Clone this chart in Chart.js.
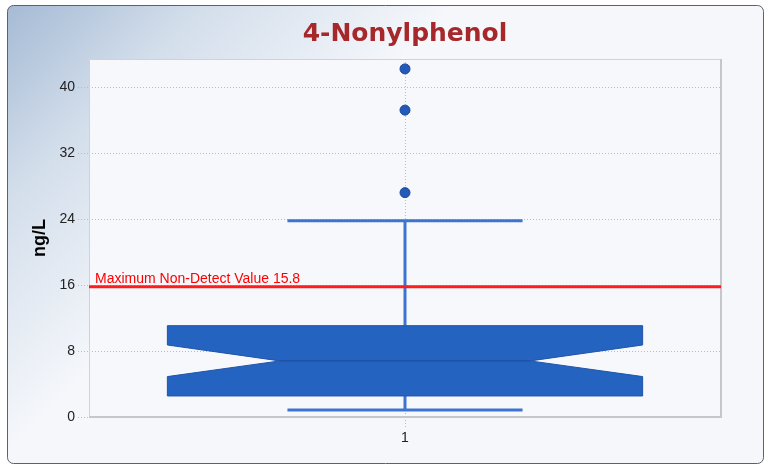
<!DOCTYPE html>
<html>
<head>
<meta charset="utf-8">
<title>4-Nonylphenol</title>
<script src="https://cdn.jsdelivr.net/npm/chart.js@4.4.0/dist/chart.umd.min.js"></script>
<style>
  html, body { margin: 0; padding: 0; background: #ffffff; }
  #wrap { width: 764px; height: 465px; }
</style>
</head>
<body>
<div id="wrap"><canvas id="chart" width="764" height="465"></canvas></div>
<script>
// Sample group and axis ticks
const categories = [1];
const yTickValues = [0, 8, 16, 24, 32, 40];

// Box-plot statistics per group (ng/L)
const whiskerLow  = [0.85];
const q1          = [2.55];
const notchLow    = [4.9];
const median      = [6.8];
const notchHigh   = [8.73];
const q3          = [11.07];
const whiskerHigh = [23.8];
const outliers    = [[27.2, 37.2, 42.2]];

// Reference line
const maxNonDetect = 15.8;

const chartTitle = '4-Nonylphenol';

// Shape of the box glyph, in x-axis units
const BOX_HALF = 0.376;
const NOTCH_HALF = 0.198;
const CAP_HALF = 0.186;

const FONT = "'Liberation Sans', Arial, sans-serif";

const outlierPoints = [];
categories.forEach((c, i) => outliers[i].forEach(v => outlierPoints.push({ x: c, y: v })));

// Panel background: framed card with a bluish corner wash, plus plot area fill
const panelPlugin = {
  id: 'panel',
  beforeDraw(chart) {
    const { ctx, chartArea: a, width, height } = chart;
    ctx.save();
    ctx.fillStyle = '#ffffff';
    ctx.fillRect(0, 0, width, height);
    const g = ctx.createLinearGradient(0, 0, 230, 230);
    g.addColorStop(0, '#a2b8d3');
    g.addColorStop(0.45, '#d3deeb');
    g.addColorStop(1, '#f5f7fb');
    ctx.beginPath();
    ctx.roundRect(7.5, 5.5, 756, 458, 6);
    ctx.fillStyle = g;
    ctx.fill();
    ctx.lineWidth = 1;
    ctx.strokeStyle = '#5d6269';
    ctx.stroke();
    ctx.fillStyle = '#f7f8fc';
    ctx.fillRect(a.left, a.top, a.right - a.left, a.bottom - a.top);

    // title, centred over the plot area
    ctx.fillStyle = '#a6282b';
    ctx.font = "bold 25px 'DejaVu Sans', sans-serif";
    ctx.textAlign = 'center';
    ctx.textBaseline = 'middle';
    ctx.fillText(chartTitle, (a.left + a.right) / 2, 34);
    ctx.restore();
  },
  beforeDatasetsDraw(chart) {
    const { ctx, chartArea: a } = chart;
    ctx.save();
    ctx.strokeStyle = '#cfd2d6';
    ctx.lineWidth = 1;
    ctx.beginPath();
    ctx.moveTo(a.left + 0.5, a.bottom);
    ctx.lineTo(a.left + 0.5, a.top + 0.5);
    ctx.lineTo(a.right, a.top + 0.5);
    ctx.stroke();
    ctx.strokeStyle = '#c4c8cc';
    ctx.lineWidth = 2;
    ctx.beginPath();
    ctx.moveTo(a.right, a.top);
    ctx.lineTo(a.right, a.bottom);
    ctx.lineTo(a.left, a.bottom);
    ctx.stroke();
    ctx.restore();
  }
};

// Notched box, whiskers and caps drawn through the chart scales
const boxPlugin = {
  id: 'notchedBox',
  beforeDatasetsDraw(chart) {
    const { ctx, scales: { x, y } } = chart;
    ctx.save();
    categories.forEach((c, i) => {
      const xl = x.getPixelForValue(c - BOX_HALF);
      const xr = x.getPixelForValue(c + BOX_HALF);
      const nl = x.getPixelForValue(c - NOTCH_HALF);
      const nr = x.getPixelForValue(c + NOTCH_HALF);
      const cl = x.getPixelForValue(c - CAP_HALF);
      const cr = x.getPixelForValue(c + CAP_HALF);
      const xc = x.getPixelForValue(c);
      const yq1 = y.getPixelForValue(q1[i]);
      const yq3 = y.getPixelForValue(q3[i]);
      const ym = y.getPixelForValue(median[i]);
      const ynl = y.getPixelForValue(notchLow[i]);
      const ynh = y.getPixelForValue(notchHigh[i]);
      const ylo = y.getPixelForValue(whiskerLow[i]);
      const yhi = y.getPixelForValue(whiskerHigh[i]);

      // whiskers
      ctx.strokeStyle = '#3d74cf';
      ctx.lineWidth = 3;
      ctx.beginPath();
      ctx.moveTo(xc, yq3); ctx.lineTo(xc, yhi);
      ctx.moveTo(xc, yq1); ctx.lineTo(xc, ylo);
      ctx.moveTo(cl, yhi); ctx.lineTo(cr, yhi);
      ctx.moveTo(cl, ylo); ctx.lineTo(cr, ylo);
      ctx.stroke();

      // notched box
      ctx.beginPath();
      ctx.moveTo(xl, yq3);
      ctx.lineTo(xr, yq3);
      ctx.lineTo(xr, ynh);
      ctx.lineTo(nr, ym);
      ctx.lineTo(xr, ynl);
      ctx.lineTo(xr, yq1);
      ctx.lineTo(xl, yq1);
      ctx.lineTo(xl, ynl);
      ctx.lineTo(nl, ym);
      ctx.lineTo(xl, ynh);
      ctx.closePath();
      ctx.fillStyle = '#2563c0';
      ctx.fill();
      ctx.lineWidth = 1;
      ctx.strokeStyle = '#1f54aa';
      ctx.stroke();

      // median
      ctx.strokeStyle = '#1b4a98';
      ctx.lineWidth = 1;
      ctx.beginPath();
      ctx.moveTo(nl, ym); ctx.lineTo(nr, ym);
      ctx.stroke();
    });
    ctx.restore();
  }
};

// Maximum non-detect reference line with its caption
const refLinePlugin = {
  id: 'refLine',
  afterDatasetsDraw(chart) {
    const { ctx, chartArea: a, scales: { y } } = chart;
    const yp = y.getPixelForValue(maxNonDetect);
    ctx.save();
    ctx.strokeStyle = '#ff1c1c';
    ctx.lineWidth = 3;
    ctx.beginPath();
    ctx.moveTo(a.left, yp);
    ctx.lineTo(a.right, yp);
    ctx.stroke();
    ctx.fillStyle = '#ff0000';
    ctx.font = '14px ' + FONT;
    ctx.textAlign = 'left';
    ctx.textBaseline = 'alphabetic';
    ctx.fillText('Maximum Non-Detect Value ' + maxNonDetect, a.left + 6, yp - 4);
    ctx.restore();
  }
};

new Chart(document.getElementById('chart'), {
  type: 'scatter',
  data: {
    datasets: [{
      label: 'Outliers',
      data: outlierPoints,
      pointRadius: 5,
      pointHoverRadius: 5,
      backgroundColor: '#2359b9',
      borderColor: '#1b4a9c',
      borderWidth: 1
    }]
  },
  options: {
    responsive: false,
    devicePixelRatio: 1,
    animation: false,
    events: [],
    layout: { padding: { left: 0, right: 43, top: 59, bottom: 0 } },
    plugins: {
      legend: { display: false },
      tooltip: { enabled: false },
      title: { display: false }
    },
    scales: {
      x: {
        type: 'linear',
        min: 0.5,
        max: 1.5,
        afterBuildTicks(axis) { axis.ticks = categories.map(v => ({ value: v })); },
        afterFit(axis) { axis.height = 48; },
        ticks: { color: '#222222', font: { family: FONT, size: 14 }, padding: 3 },
        grid: {
          color: '#b9bcc1',
          tickColor: '#b9bcc1',
          tickLength: 10,
          tickBorderDash: [1, 2],
          lineWidth: 1
        },
        border: { display: false, dash: [1, 2] }
      },
      y: {
        type: 'linear',
        min: 0,
        max: 43.4,
        afterBuildTicks(axis) { axis.ticks = yTickValues.map(v => ({ value: v })); },
        afterFit(axis) { axis.width = 89; },
        ticks: { color: '#222222', font: { family: FONT, size: 14 }, padding: 3 },
        grid: {
          color: '#b9bcc1',
          tickColor: '#b9bcc1',
          tickLength: 11,
          tickBorderDash: [1, 2],
          lineWidth: 1
        },
        border: { display: false, dash: [1, 2] },
        title: {
          display: true,
          text: 'ng/L',
          color: '#000000',
          font: { family: FONT, size: 18, weight: 'bold' },
          padding: { top: 29, bottom: 0 }
        }
      }
    }
  },
  plugins: [panelPlugin, boxPlugin, refLinePlugin]
});
</script>
</body>
</html>
